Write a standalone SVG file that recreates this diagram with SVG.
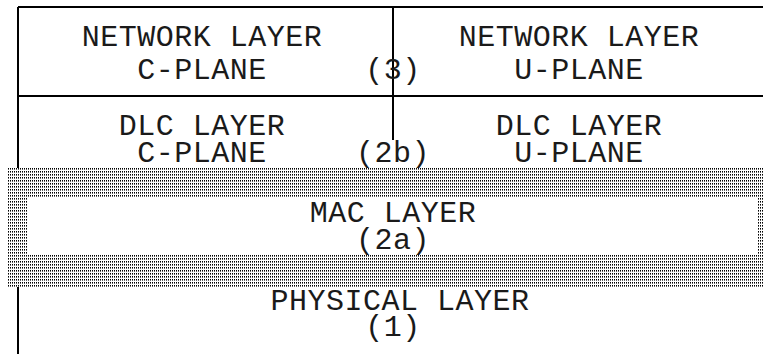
<svg xmlns="http://www.w3.org/2000/svg" width="763" height="354" viewBox="0 0 763 354">
  <style>
    .frame { stroke: #000; stroke-width: 2; fill: none; }
    .label { font-family: "Liberation Mono", "DejaVu Sans Mono", monospace; font-size: 30px; letter-spacing: 0.5px; fill: #1a1a1a; text-anchor: middle; }
  </style>
  <defs>
    <!-- fine screen used for the MAC layer band -->
    <pattern id="screen" x="0" y="0" width="2" height="3" patternUnits="userSpaceOnUse">
      <rect x="0" y="0" width="1" height="1.6" fill="#000"/>
    </pattern>
  </defs>
  <rect x="0" y="0" width="763" height="354" fill="#fff"/>

  <g id="connectors">
    <!-- outer frame and dividers -->
    <line class="frame" x1="18" y1="7" x2="763" y2="7"/>
    <line class="frame" x1="18" y1="7" x2="18" y2="168"/>
    <line class="frame" x1="18" y1="96" x2="763" y2="96"/>
    <line class="frame" x1="393" y1="7" x2="393" y2="140"/>
    <line class="frame" x1="18" y1="287" x2="18" y2="354"/>
  </g>

  <g id="network-c">
    <text class="label" x="202" y="46">NETWORK LAYER</text>
    <text class="label" x="202" y="79">C-PLANE</text>
  </g>
  <g id="network-u">
    <text class="label" x="579" y="46">NETWORK LAYER</text>
    <text class="label" x="579" y="79">U-PLANE</text>
  </g>
  <g id="label-3">
    <text class="label" x="393" y="79">(3)</text>
  </g>

  <g id="dlc-c">
    <text class="label" x="202" y="135">DLC LAYER</text>
    <text class="label" x="202" y="162">C-PLANE</text>
  </g>
  <g id="dlc-u">
    <text class="label" x="579" y="135">DLC LAYER</text>
    <text class="label" x="579" y="162">U-PLANE</text>
  </g>
  <g id="label-2b">
    <text class="label" x="393" y="162">(2b)</text>
  </g>

  <g id="mac">
    <path d="M8 167 H763 V287 H8 Z M28 198 V255 H758 V198 Z" fill="url(#screen)" fill-rule="evenodd"/>
    <text class="label" x="393" y="222">MAC LAYER</text>
    <text class="label" x="393" y="249">(2a)</text>
  </g>

  <g id="physical">
    <text class="label" x="400" y="310">PHYSICAL LAYER</text>
    <text class="label" x="393" y="336">(1)</text>
  </g>
</svg>
